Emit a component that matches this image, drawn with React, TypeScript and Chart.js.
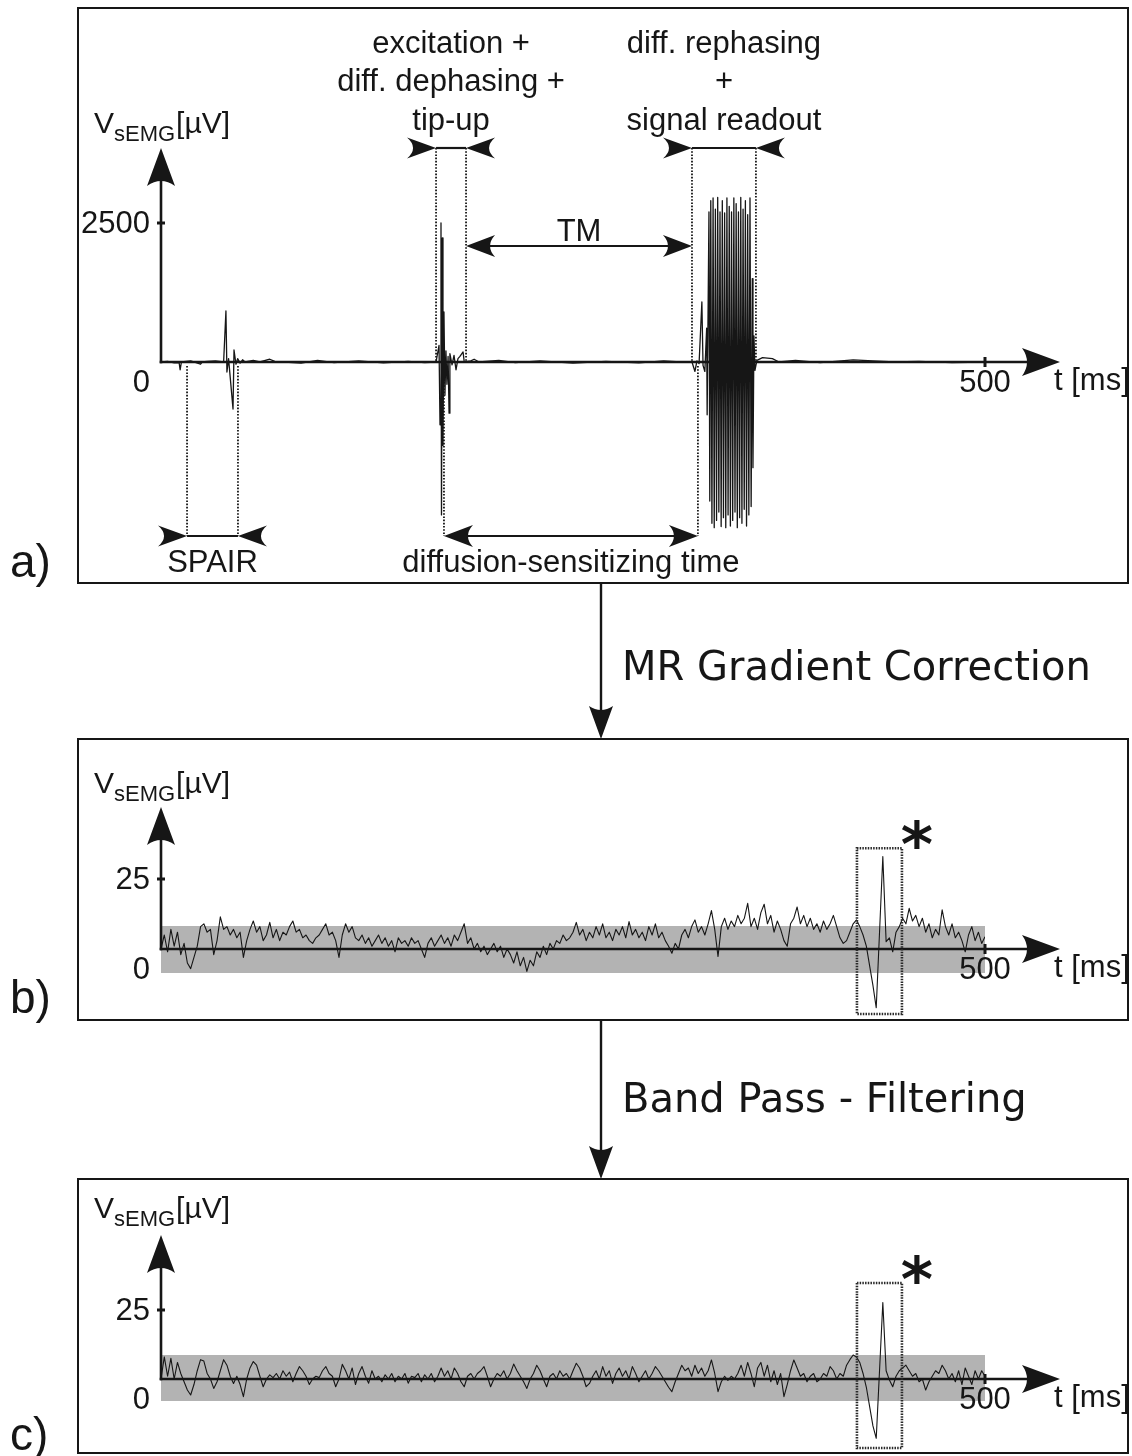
import { useEffect, useRef } from "react";
import { Chart, registerables } from "chart.js";

Chart.register(...registerables);

// ---------- data ----------

// time axis (ms), shared by all three panels
const T_MIN = 0;
const T_MAX = 500;
const T_TICK = 500;

// a) raw sEMG recorded during the diffusion-weighted sequence (ms / µV)
const RAW_T = [
  0, 4, 8, 11, 11.6, 12.4, 18, 24, 25, 28, 33, 38,
  39.4, 40.0, 41, 43.7, 44.3, 45.5, 46.5, 48, 49.5, 51,
  56, 60, 66, 69, 75, 85, 95, 105, 120, 135, 150, 160,
  166.9, 168.7, 169.3, 169.9, 170.2, 170.7, 171.1, 171.7, 172.3, 172.9, 173.5, 174.2, 174.8, 175.3, 176.6, 177.8, 179.0, 180.2, 181.4, 183.3, 184.0,
  188, 190, 193, 205, 215, 230, 250, 270, 290, 305, 315,
  322.2, 324.0, 325.2, 326.5, 328.2, 328.9, 330.0, 331.1, 331.4, 332.5, 333.0,
  333.6, 334.3, 335.0, 335.7, 336.4, 337.1, 337.8, 338.5, 339.2, 339.9, 340.6, 341.3, 342.0, 342.7, 343.4, 344.1, 344.8, 345.5, 346.2,
  346.9, 347.6, 348.3, 349.0, 349.7, 350.4, 351.1, 351.8, 352.5, 353.2, 353.9, 354.6, 355.3, 356.0, 356.7, 357.4, 358.1, 358.8, 359.2,
  359.8, 360.4, 361.6, 365, 371, 375, 385, 400, 420, 432, 445, 460, 480, 500,
];
const RAW_V = [
  0, 10, -15, -10, -140, 0, 20, -40, 0, 10, 20, 0,
  917, -180, 60, -845, 216, -40, 60, -20, 40, 0,
  30, 0, 50, 10, 0, -20, 30, -10, 20, -15, 10, -10,
  0, 300, -1130, 2500, -2750, 2230, -1500, 900, -600, 200, -400, 100, -920, 150, -50, 120, -140, 60, 100, 180, 0,
  20, 50, 0, 30, -10, 20, -20, 10, -15, 20, 0,
  0, -170, 20, -30, 1080, -60, -170, 610, -950, 2700, -2500,
  2900, -2900, 2950, -2980, 2750, -2850, 2960, -2700, 2700, -2960, 2900, -2800, 2680, -2980, 2950, -2750, 2800, -2950, 2700,
  -2850, 2950, -2700, 2850, -2980, 2700, -2800, 2960, -2900, 2750, -2650, 2900, -2950, 2650, -2750, 2950, -2600, 1500, -1900,
  470, -150, 30, 80, 60, 0, 30, -10, 40, 20, 0, 10, -10, 0,
];
const RAW_TICK = 2500;

// b) after MR gradient correction and c) after band-pass filtering (µV, one sample every SAMPLE_MS)
const SAMPLE_MS = 2;
const CORR_V = [
  0, 5, -1, 7, 1, 6, -2, 2, -5, -7,
  -3, 1, 8, 9, 6, 7, -2, 3, 11.5, 7,
  8, 5, 7, 4, 6, -3, 3, 7, 10, 6,
  8, 3, 5, 9.5, 4, 7, 3, 6, 5, 8,
  10, 6, 7, 4, 5, 3, 2, 4, 5, 7,
  9, 5, 6, 3, -3, 5, 9, 6, 8, 4,
  3, 5, 2, 4, 1, 3, 5, 2, 4, 1,
  3, -1, 4, 2, 3, 1, 4, 2, 3, 0,
  -3, 2, 4, 1, 3, 5, 2, 4, 1, 5,
  3, 6, 9, 2, 4, 0, 2, -1, 1, -2,
  0, 2, -1, 1, -3, 0, -2, -5, -1, -6,
  -3, -8, -4, -6, -1, -3, 1, -2, 2, 0,
  3, 2, 5, 3, 4, 6, 9.5, 5, 7, 3,
  6, 4, 8, 5, 9, 4, 6, 3, 7, 5,
  8, 4, 9.8, 5, 7, 4, 6, 3, 8, 5,
  9, 4, 6, 3, 1, -1.5, 2, 0, 5, 7,
  4, 8, 10.4, 6, 8, 5, 9, 13.7, 7, -2.7,
  8, 11, 7, 10, 8, 12, 9, 11, 16.3, 8,
  11, 7, 13, 16, 9, 12, 6, 10, 7, 3,
  1, 9, 11, 15, 9, 12, 8, 11, 7, 9,
  6, 10, 7, 9, 12, 8, 4, 2, 3, 6,
  9, 10.4, 8, 5, 1, -6, -13, -21, 6, 33,
  2.6, 4, -1, 6, 8, 11, 9, 14.5, 10, 12,
  8, 11, 6, 9, 4, 7, 5, 14, 8, 5,
  9, 4, 6, 3, -1, 5, 8, 3, 6, 2,
  4.4,
];
const FILT_V = [
  0, 8, 1, 7.5, 0, 6, 2, -1, -4, -5.8,
  -2, 3, 7, 6.5, 2, 0, -3.4, -1, 3, 7,
  5, 1, -1.6, 1, -2, -6.4, 0, 4, 6.3, 5,
  1, -2.8, 0, 1.5, 0.5, 2, 0, 3, 1, 2.5,
  -1, 2, 4.5, 3, 1, -2, 0, 1, 0.5, 3,
  4.5, 2, 1, -2.8, 0, 5.3, 3, 0, 4, -2,
  2, 4.5, 1, -1.5, 3, 0, 1, -1, 1.5, 0,
  2, -1, 1, 0, 2, -1.5, 1, 0.5, 2, -1,
  1.5, 0, 2, -1, 1, 4, 1, 3, 0, 4,
  2, -1, -2.8, 1, 2, 0, 2, 3, 4.5, 1,
  -2.8, 0, 2, 1, 3, 0, 2, 5.4, 3, 1,
  -1, -3.4, 0, 2, 5, 3, 0, -2.8, 1, 2,
  0, 3, 1, 2, 0, 3, 5.7, 4, 1, -2.8,
  -1.6, 1, 3, 0, 4.5, 1, 3, -1.6, 2, 4,
  1, 3, 0, 4.5, 2, -1, 1, 3, 0, 2,
  4.5, 3, 1, -1, -3, -4.6, -1, 2, 5, 3,
  4, 1, 5, 2, 4, 1, 3, 6.9, 2, -4.6,
  -1, 1, -0.5, 1, 0, 2, 5, 1, 6, 2,
  -2.8, 4, 6, 1, 5, -1, 3, -2, 2, -6.4,
  -2, 3, 6.9, 4, 1, 2, -1, 1, 2, -1,
  0, 2, 1, 4.5, 3, 0, 2, 1, 5, 7,
  8.7, 8, 6, 2, -3, -10, -17, -21.5, 3, 27.7,
  3, -0.4, -2.8, 1, 3, 4, 5, 3, 1, 2,
  -1, 0, -4, -1, 1, 3, 2, 5, 3, 0,
  2, -1, 3, -2, 4, 1, -2, 3, 0, 3,
  1,
];
const EMG_TICK = 25;

// noise band [lower, upper] in µV
const CORR_BAND = [-8.6, 8.2];
const FILT_BAND = [-8.0, 8.7];

// sequence blocks (ms)
const SPAIR_MS = [15.8, 46.7];
const EXCITATION_MS = [166.9, 185.1];
const READOUT_MS = [322.2, 361.0];
const DIFFUSION_MS = [171.7, 325.8];

// highlighted motor unit potential: time window (ms) and voltage window (µV)
const MUAP_MS = [422.3, 449.6];
const MUAP_UV_B = [-23.2, 36];
const MUAP_UV_C = [-25, 34.8];

const EXCITATION_LINES = ["excitation +", "diff. dephasing +", "tip-up"];
const READOUT_LINES = ["diff. rephasing", "+", "signal readout"];
const STEP_LABELS = ["MR Gradient Correction", "Band Pass - Filtering"];
const PANEL_LETTERS = ["a)", "b)", "c)"];

// ---------- layout ----------

const W = 1132;
const H = 1456;
const PLOT_LEFT = 161;
const PLOT_RIGHT = 985;
const X_ARROW_TIP = 1060;
const INK = "#161616";
const BAND_FILL = "#b3b3b3";
const SANS = '"Liberation Sans", Arial, Helvetica, sans-serif';
const DEJAVU = '"DejaVu Sans", Verdana, sans-serif';

type Panel = {
  scale: string;
  tick: number;
  box: number[];
  zeroPx: number;
  tickPx: number;
  arrowTipPx: number;
  unitBaseline: number;
  letterBaseline: number;
};

const PANELS: Panel[] = [
  { scale: "yA", tick: RAW_TICK, box: [78, 8, 1128, 583], zeroPx: 362, tickPx: 223, arrowTipPx: 148, unitBaseline: 133, letterBaseline: 577 },
  { scale: "yB", tick: EMG_TICK, box: [78, 739, 1128, 1020], zeroPx: 949, tickPx: 879, arrowTipPx: 807, unitBaseline: 793, letterBaseline: 1013 },
  { scale: "yC", tick: EMG_TICK, box: [78, 1179, 1128, 1453], zeroPx: 1379, tickPx: 1310, arrowTipPx: 1235, unitBaseline: 1218, letterBaseline: 1450 },
];

// the plot area spans the full canvas height; each panel gets its own y scale
function yRange(p: Panel) {
  const k = (p.zeroPx - p.tickPx) / p.tick;
  return { min: -(H - p.zeroPx) / k, max: p.zeroPx / k };
}

// ---------- drawing helpers ----------

function seg(ctx: any, x1: number, y1: number, x2: number, y2: number, w: number) {
  ctx.lineWidth = w;
  ctx.beginPath();
  ctx.moveTo(x1, y1);
  ctx.lineTo(x2, y2);
  ctx.stroke();
}

function head(ctx: any, tx: number, ty: number, dx: number, dy: number, len: number, half: number, notch: number) {
  const bx = tx - dx * len;
  const by = ty - dy * len;
  const nx = -dy;
  const ny = dx;
  ctx.beginPath();
  ctx.moveTo(tx, ty);
  ctx.lineTo(bx + nx * half, by + ny * half);
  ctx.quadraticCurveTo(bx + dx * notch * 2, by + dy * notch * 2, bx - nx * half, by - ny * half);
  ctx.closePath();
  ctx.fill();
}

function dotted(ctx: any, x: number, y1: number, y2: number) {
  ctx.save();
  ctx.setLineDash([1.6, 1.6]);
  seg(ctx, x, y1, x, y2, 1.8);
  ctx.restore();
}

// arrowheads outside the interval, pointing inwards
function bracket(ctx: any, x1: number, x2: number, y: number) {
  seg(ctx, x1, y, x2, y, 2.2);
  head(ctx, x1, y, 1, 0, 29, 10.5, 6);
  head(ctx, x2, y, -1, 0, 29, 10.5, 6);
}

// arrowheads at the ends of the interval, pointing outwards
function span(ctx: any, x1: number, x2: number, y: number) {
  seg(ctx, x1 + 20, y, x2 - 20, y, 2.2);
  head(ctx, x1, y, -1, 0, 29, 11, 5);
  head(ctx, x2, y, 1, 0, 29, 11, 5);
}

function unitLabel(ctx: any, x: number, baseline: number) {
  ctx.textAlign = "left";
  ctx.textBaseline = "alphabetic";
  ctx.font = `30px ${SANS}`;
  ctx.fillText("V", x, baseline);
  let cx = x + ctx.measureText("V").width;
  ctx.font = `22px ${SANS}`;
  ctx.fillText("sEMG", cx, baseline + 8);
  cx += ctx.measureText("sEMG").width;
  ctx.font = `30px ${SANS}`;
  ctx.fillText("[µV]", cx + 1, baseline);
}

function asterisk(ctx: any, cx: number, cy: number, h: number) {
  ctx.font = `bold 100px ${DEJAVU}`;
  const m = ctx.measureText("*");
  const size = (100 * h) / (m.actualBoundingBoxAscent + m.actualBoundingBoxDescent);
  ctx.font = `bold ${size}px ${DEJAVU}`;
  const m2 = ctx.measureText("*");
  ctx.textAlign = "center";
  ctx.textBaseline = "alphabetic";
  ctx.fillText("*", cx, cy - (m2.actualBoundingBoxDescent - m2.actualBoundingBoxAscent) / 2);
}

function drawAxes(ctx: any, chart: any, p: Panel) {
  const xs = chart.scales.x;
  const ys = chart.scales[p.scale];
  const x0 = xs.getPixelForValue(T_MIN);
  const y0 = ys.getPixelForValue(0);
  const yTick = ys.getPixelForValue(p.tick);
  const xTick = xs.getPixelForValue(T_TICK);
  ctx.save();
  ctx.strokeStyle = INK;
  ctx.fillStyle = INK;
  ctx.lineCap = "butt";
  seg(ctx, x0, y0 + 1.3, x0, p.arrowTipPx + 33, 2.6);
  head(ctx, x0, p.arrowTipPx, 0, -1, 38, 14, 5);
  seg(ctx, x0 - 1.3, y0, X_ARROW_TIP - 33, y0, 2.6);
  head(ctx, X_ARROW_TIP, y0, 1, 0, 38, 14, 5);
  seg(ctx, x0 - 4, yTick, x0 + 4, yTick, 3);
  seg(ctx, xTick, y0 - 5, xTick, y0 + 5, 3);

  ctx.font = `31px ${SANS}`;
  ctx.textBaseline = "middle";
  ctx.textAlign = "right";
  ctx.fillText(String(p.tick), x0 - 11, yTick + 1);
  ctx.fillText("0", x0 - 11, y0 + 21);
  ctx.textAlign = "center";
  ctx.fillText(String(T_TICK), xTick, y0 + 21);
  ctx.textAlign = "left";
  ctx.fillText("t [ms]", 1054, y0 + 19);
  unitLabel(ctx, 94, p.unitBaseline);
  ctx.restore();
}

function drawSequence(ctx: any, chart: any) {
  const xs = chart.scales.x;
  const X = (t: number) => xs.getPixelForValue(t);
  const zero = chart.scales.yA.getPixelForValue(0);
  const bracketY = 148;
  const tmY = 246;
  const lowerY = 536;
  ctx.save();
  ctx.strokeStyle = INK;
  ctx.fillStyle = INK;

  for (const t of [EXCITATION_MS[0], EXCITATION_MS[1], READOUT_MS[0], READOUT_MS[1]]) dotted(ctx, X(t), bracketY, zero);
  for (const t of [SPAIR_MS[0], SPAIR_MS[1], DIFFUSION_MS[0], DIFFUSION_MS[1]]) dotted(ctx, X(t), zero + 4, lowerY);

  bracket(ctx, X(EXCITATION_MS[0]), X(EXCITATION_MS[1]), bracketY);
  bracket(ctx, X(READOUT_MS[0]), X(READOUT_MS[1]), bracketY);
  bracket(ctx, X(SPAIR_MS[0]), X(SPAIR_MS[1]), lowerY);
  span(ctx, X(EXCITATION_MS[1]), X(READOUT_MS[0]), tmY);
  span(ctx, X(DIFFUSION_MS[0]), X(DIFFUSION_MS[1]), lowerY);

  ctx.font = `31px ${SANS}`;
  ctx.textAlign = "center";
  ctx.textBaseline = "alphabetic";
  const baselines = [53, 91, 130];
  const exMid = (X(EXCITATION_MS[0]) + X(EXCITATION_MS[1])) / 2;
  const roMid = (X(READOUT_MS[0]) + X(READOUT_MS[1])) / 2;
  EXCITATION_LINES.forEach((s, i) => ctx.fillText(s, exMid, baselines[i]));
  READOUT_LINES.forEach((s, i) => ctx.fillText(s, roMid, baselines[i]));
  ctx.fillText("TM", (X(EXCITATION_MS[1]) + X(READOUT_MS[0])) / 2, 241);
  ctx.fillText("SPAIR", (X(SPAIR_MS[0]) + X(SPAIR_MS[1])) / 2, 572);
  ctx.fillText("diffusion-sensitizing time", (X(DIFFUSION_MS[0]) + X(DIFFUSION_MS[1])) / 2, 572);
  ctx.restore();
}

const figurePlugin = {
  id: "semgFigure",
  beforeDatasetsDraw(chart: any) {
    const ctx = chart.ctx;
    ctx.save();
    ctx.strokeStyle = INK;
    ctx.fillStyle = INK;
    // panel frames and letters
    PANELS.forEach((p, i) => {
      const [x1, y1, x2, y2] = p.box;
      ctx.lineWidth = 2;
      ctx.strokeRect(x1, y1, x2 - x1, y2 - y1);
      ctx.font = `46px ${SANS}`;
      ctx.textAlign = "left";
      ctx.textBaseline = "alphabetic";
      ctx.fillText(PANEL_LETTERS[i], 10, p.letterBaseline);
    });
    // processing steps between panels
    for (let i = 0; i < 2; i++) {
      const from = PANELS[i].box[3] + 1;
      const to = PANELS[i + 1].box[1];
      seg(ctx, 601, from, 601, to - 28, 2.4);
      head(ctx, 601, to, 0, 1, 33, 12, 4);
      ctx.font = `40px ${DEJAVU}`;
      ctx.textAlign = "left";
      ctx.fillText(STEP_LABELS[i], 622, i === 0 ? 680 : 1112);
    }
    ctx.restore();
    drawAxes(ctx, chart, PANELS[0]);
    drawSequence(ctx, chart);
  },
  afterDatasetDraw(chart: any, args: any) {
    if (args.index === 3) drawAxes(chart.ctx, chart, PANELS[1]);
    if (args.index === 4) drawAxes(chart.ctx, chart, PANELS[2]);
  },
  afterDatasetsDraw(chart: any) {
    const ctx = chart.ctx;
    const xs = chart.scales.x;
    const boxes: [string, number[]][] = [["yB", MUAP_UV_B], ["yC", MUAP_UV_C]];
    ctx.save();
    ctx.strokeStyle = "#2a2a2a";
    ctx.fillStyle = INK;
    for (const [id, uv] of boxes) {
      const ys = chart.scales[id];
      const x1 = xs.getPixelForValue(MUAP_MS[0]);
      const x2 = xs.getPixelForValue(MUAP_MS[1]);
      const y1 = ys.getPixelForValue(uv[1]);
      const y2 = ys.getPixelForValue(uv[0]);
      ctx.save();
      ctx.setLineDash([1.5, 1.2]);
      ctx.lineWidth = 2.6;
      ctx.strokeRect(x1, y1, x2 - x1, y2 - y1);
      ctx.restore();
      asterisk(ctx, x2 + 15, y1 - 14, 29);
    }
    ctx.restore();
  },
};

function series(t: number[], v: number[]) {
  return v.map((y, i) => ({ x: t[i], y }));
}

function sampled(v: number[]) {
  return v.map((y, i) => ({ x: T_MIN + i * SAMPLE_MS, y }));
}

function band(limits: number[]) {
  return [
    { x: T_MIN, y: limits[1] },
    { x: T_MAX, y: limits[1] },
  ];
}

export default function App() {
  const ref = useRef<HTMLCanvasElement>(null);

  useEffect(() => {
    const canvas = ref.current;
    if (!canvas) return;
    const trace = {
      borderColor: INK,
      pointRadius: 0,
      tension: 0,
      borderJoinStyle: "round",
      order: 1,
    };
    const chart = new Chart(canvas, {
      type: "line",
      data: {
        datasets: [
          { ...trace, data: series(RAW_T, RAW_V), yAxisID: "yA", borderWidth: 1.3 },
          { ...trace, data: sampled(CORR_V), yAxisID: "yB", borderWidth: 1.1 },
          { ...trace, data: sampled(FILT_V), yAxisID: "yC", borderWidth: 1.1 },
          {
            data: band(CORR_BAND),
            yAxisID: "yB",
            borderWidth: 0,
            borderColor: "rgba(0,0,0,0)",
            backgroundColor: BAND_FILL,
            pointRadius: 0,
            fill: { value: CORR_BAND[0] },
            order: 2,
          },
          {
            data: band(FILT_BAND),
            yAxisID: "yC",
            borderWidth: 0,
            borderColor: "rgba(0,0,0,0)",
            backgroundColor: BAND_FILL,
            pointRadius: 0,
            fill: { value: FILT_BAND[0] },
            order: 2,
          },
        ] as any,
      },
      options: {
        animation: false,
        responsive: false,
        events: [],
        layout: { padding: { left: PLOT_LEFT, right: W - PLOT_RIGHT, top: 0, bottom: 0 } },
        plugins: { legend: { display: false }, tooltip: { enabled: false } },
        scales: {
          x: { type: "linear", min: T_MIN, max: T_MAX, display: false },
          yA: { type: "linear", display: false, ...yRange(PANELS[0]) },
          yB: { type: "linear", display: false, ...yRange(PANELS[1]) },
          yC: { type: "linear", display: false, ...yRange(PANELS[2]) },
        },
      } as any,
      plugins: [figurePlugin as any],
    });
    return () => chart.destroy();
  }, []);

  return (
    <div style={{ position: "absolute", left: 0, top: 0, width: W, height: H, background: "#fff", overflow: "hidden" }}>
      <canvas ref={ref} width={W} height={H} style={{ display: "block", width: W, height: H }} />
    </div>
  );
}
